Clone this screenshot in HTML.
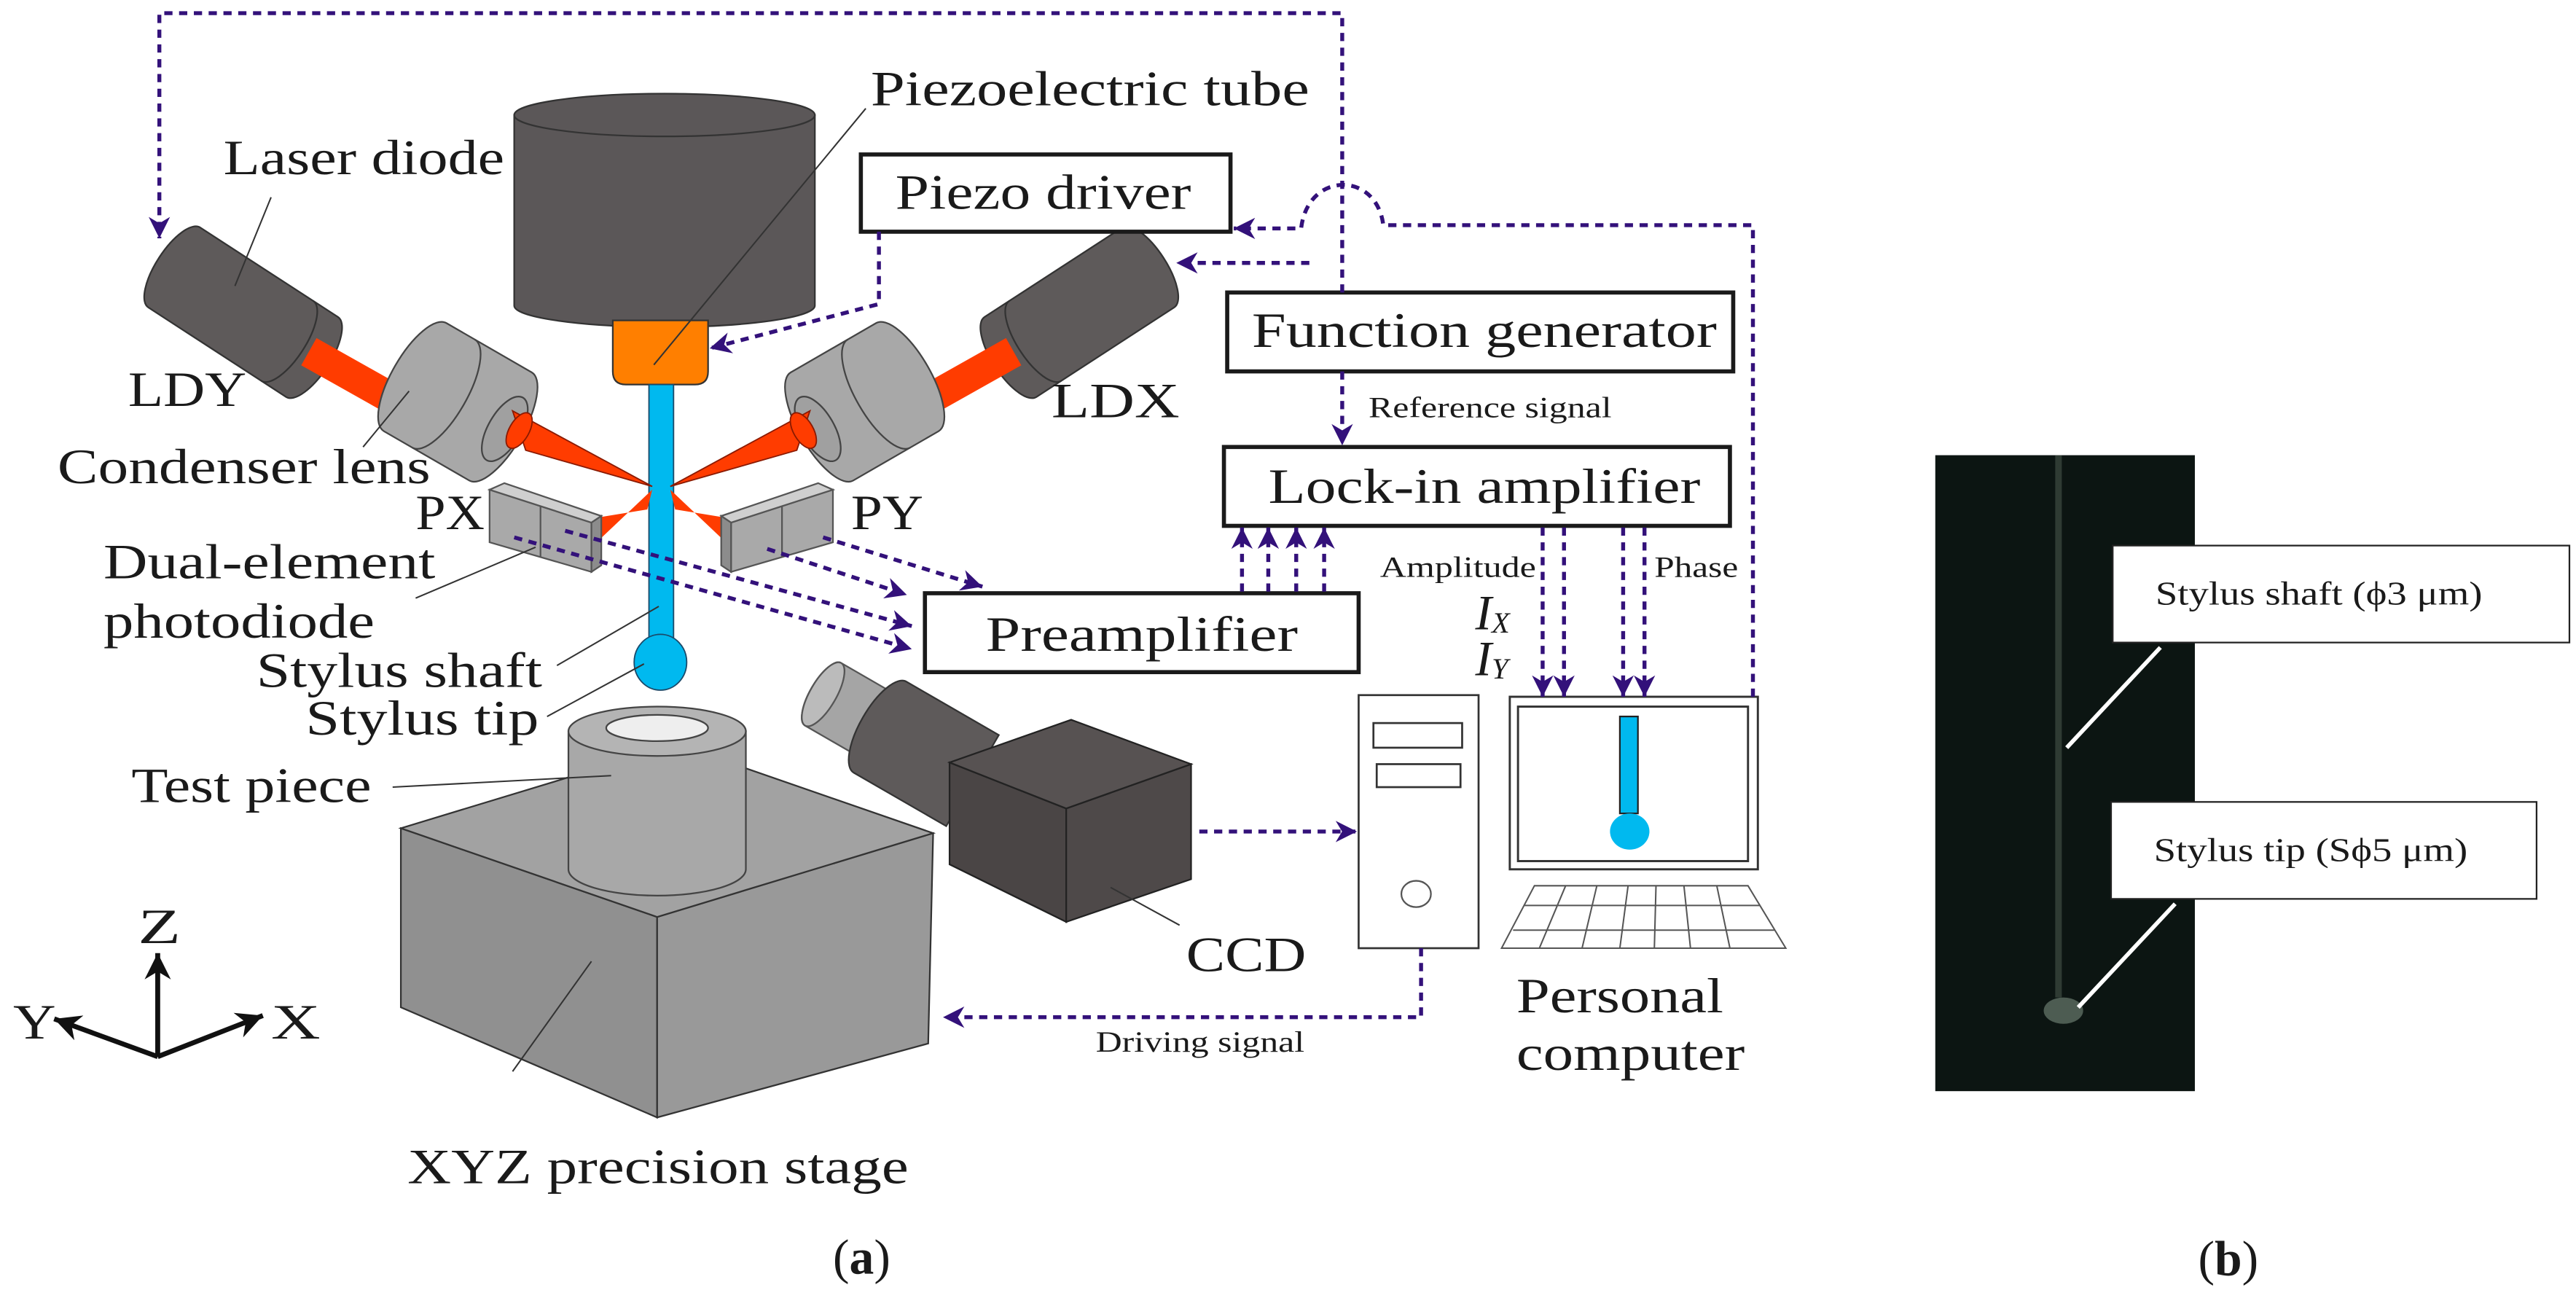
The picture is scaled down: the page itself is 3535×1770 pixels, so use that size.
<!DOCTYPE html>
<html><head><meta charset="utf-8"><style>
html,body{margin:0;padding:0;background:#fff}
svg{display:block}
text{font-family:"Liberation Serif",serif;fill:#1a1a1a}
</style></head><body>
<svg width="3535" height="1770" viewBox="0 0 1568 785" preserveAspectRatio="none" xmlns="http://www.w3.org/2000/svg">
<defs>
<marker id="ah" viewBox="0 0 10 10" refX="10" refY="5" markerWidth="13" markerHeight="13" markerUnits="userSpaceOnUse" orient="auto"><path d="M0,0 L10,5 L0,10 L3,5z" fill="#33117a"/></marker>
<marker id="bk" viewBox="0 0 10 10" refX="10" refY="5" markerWidth="16" markerHeight="16" markerUnits="userSpaceOnUse" orient="auto"><path d="M0,0 L10,5 L0,10 L3,5z" fill="#111"/></marker>
<g id="ld">
 <g transform="translate(148,190) rotate(33)">
  <path d="M-50,-29 H50 A11,29 0 0 1 50,29 H-50 A11,29 0 0 1 -50,-29z" fill="#5e5a5a" stroke="#333" stroke-width="1"/>
  <path d="M32,-29 A11,29 0 0 1 32,29" fill="none" stroke="#333" stroke-width="1"/>
 </g>
 <line x1="188" y1="214" x2="252" y2="250" stroke="#ff3c00" stroke-width="19"/>
 <g transform="translate(283,247) rotate(30)">
  <path d="M-35,-38 H25 A14,38 0 0 1 25,38 H-35 A14,38 0 0 1 -35,-38z" fill="#a8a8a8" stroke="#444" stroke-width="1"/>
  <path d="M-15,-38 A14,38 0 0 1 -15,38" fill="none" stroke="#444" stroke-width="1"/>
  <ellipse cx="28" cy="0" rx="10" ry="22" fill="#a0a0a0" stroke="#444" stroke-width="1"/>
 </g>
 <polygon points="312,250 320,274 397,296" fill="#ff3c00" stroke="#8a1a00" stroke-width="0.8"/>
 <ellipse cx="316" cy="262" rx="6" ry="12" transform="rotate(30 316 262)" fill="#ff3c00" stroke="#8a1a00" stroke-width="0.8"/>
 <polygon points="397,298 394,310 345,318 360,333" fill="#ff3c00"/>
 <polygon points="298,298 360,318 360,348 298,330" fill="#a9a9a9" stroke="#555" stroke-width="1"/>
 <polygon points="298,298 307,294 366,314 360,318" fill="#cfcfcf" stroke="#555" stroke-width="1"/>
 <polygon points="360,318 366,314 366,344 360,348" fill="#8c8c8c" stroke="#555" stroke-width="1"/>
 <line x1="329" y1="308" x2="329" y2="339" stroke="#555" stroke-width="1"/>
</g>
</defs>

<path d="M313,70 V186 A91.5,13 0 0 0 496,186 V70z" fill="#5b5758" stroke="#333" stroke-width="1"/>
<ellipse cx="404.5" cy="70" rx="91.5" ry="13" fill="#5b5758" stroke="#333" stroke-width="1"/>
<path d="M373,195 H431 V226 Q431,234 423,234 H381 Q373,234 373,226z" fill="#ff7f00" stroke="#333" stroke-width="1"/>
<rect x="395" y="234" width="15" height="162" fill="#00b9ef" stroke="#1a4a6a" stroke-width="0.8"/>
<ellipse cx="402" cy="403" rx="16" ry="17" fill="#00b9ef" stroke="#1a4a6a" stroke-width="0.8"/>

<use href="#ld"/>
<use href="#ld" transform="translate(805,0) scale(-1,1)"/>

<polygon points="244,504 400,558 400,680 244,613" fill="#909090" stroke="#333" stroke-width="1"/>
<polygon points="400,558 568,507 565,635 400,680" fill="#999" stroke="#333" stroke-width="1"/>
<polygon points="244,504 412,453 568,507 400,558" fill="#a2a2a2" stroke="#333" stroke-width="1"/>
<path d="M346,445 V529 A54,16 0 0 0 454,529 V445z" fill="#a8a8a8" stroke="#444" stroke-width="1"/>
<ellipse cx="400" cy="445" rx="54" ry="15" fill="#b4b4b4" stroke="#444" stroke-width="1"/>
<ellipse cx="400" cy="443" rx="31" ry="8" fill="#eee" stroke="#444" stroke-width="1"/>

<g transform="translate(540,445) rotate(30)">
 <path d="M-45,-22 H20 V22 H-45 A8,22 0 0 1 -45,-22z" fill="#a5a5a5" stroke="#555" stroke-width="1"/>
 <ellipse cx="-45" cy="0" rx="8" ry="22" fill="#bbb" stroke="#555" stroke-width="1"/>
 <path d="M-5,-32 H60 V32 H-5 A12,32 0 0 1 -5,-32z" fill="#5e5a5a" stroke="#333" stroke-width="1"/>
</g>
<polygon points="578,464 649,492 649,561 578,526" fill="#4a4545" stroke="#222" stroke-width="1"/>
<polygon points="649,492 725,465 725,535 649,561" fill="#4e4949" stroke="#222" stroke-width="1"/>
<polygon points="578,464 652,438 725,465 649,492" fill="#575252" stroke="#222" stroke-width="1"/>

<g stroke="#333" stroke-width="0.9" fill="none">
<line x1="527" y1="66" x2="398" y2="222"/>
<line x1="165" y1="120" x2="143" y2="174"/>
<line x1="221" y1="272" x2="249" y2="238"/>
<line x1="253" y1="364" x2="326" y2="333"/>
<line x1="339" y1="405" x2="401" y2="369"/>
<line x1="333" y1="436" x2="392" y2="404"/>
<line x1="239" y1="479" x2="372" y2="472"/>
<line x1="676" y1="540" x2="718" y2="563"/>
<line x1="312" y1="652" x2="360" y2="585"/>
</g>

<g fill="#fff" stroke="#1a1a1a" stroke-width="2.5">
<rect x="524" y="94" width="225" height="47"/>
<rect x="747" y="178" width="308" height="48"/>
<rect x="745" y="272" width="308" height="48"/>
<rect x="563" y="361" width="264" height="48"/>
</g>

<rect x="827" y="423" width="73" height="154" fill="#fff" stroke="#333" stroke-width="1.2"/>
<rect x="836" y="440" width="54" height="15" fill="#fff" stroke="#333" stroke-width="1.2"/>
<rect x="838" y="465" width="51" height="14" fill="#fff" stroke="#333" stroke-width="1.2"/>
<ellipse cx="862" cy="544" rx="9" ry="8" fill="#fff" stroke="#555" stroke-width="1"/>
<rect x="919" y="424" width="151" height="105" fill="#fff" stroke="#333" stroke-width="1.3"/>
<rect x="924" y="430" width="140" height="94" fill="#fff" stroke="#333" stroke-width="1.3"/>
<rect x="986" y="436" width="11" height="59" fill="#00b9ef" stroke="#222" stroke-width="1"/>
<ellipse cx="992" cy="506" rx="12" ry="11" fill="#00b9ef"/>
<g stroke="#555" stroke-width="0.9" fill="none">
<polygon points="934,539 1064,539 1087,577 914,577"/>
<line x1="928" y1="551" x2="1071" y2="551"/><line x1="921" y1="566" x2="1080" y2="566"/>
<line x1="953" y1="539" x2="937" y2="577"/><line x1="972" y1="539" x2="963" y2="577"/>
<line x1="991" y1="539" x2="986" y2="577"/><line x1="1008" y1="539" x2="1007" y2="577"/>
<line x1="1025" y1="539" x2="1029" y2="577"/><line x1="1045" y1="539" x2="1053" y2="577"/>
</g>

<g stroke="#33117a" stroke-width="2.4" stroke-dasharray="5 4" fill="none" marker-end="url(#ah)">
<path d="M817,178 V8 H97 V145"/>
<path d="M817,226 V271"/>
<path d="M1067,424 V137 H842 C838,104 796,104 792,139 H751"/>
<path d="M797,160 H716"/>
<path d="M535,141 V185 L432,212"/>
<path d="M756,360 V321"/><path d="M772,360 V321"/><path d="M789,360 V321"/><path d="M806,360 V321"/>
<path d="M939,321 V424"/><path d="M952,321 V424"/><path d="M988,321 V424"/><path d="M1001,321 V424"/>
<path d="M313,327 L555,395"/>
<path d="M344,323 L555,381"/>
<path d="M467,334 L552,362"/>
<path d="M501,327 L598,357"/>
<path d="M730,506 H826"/>
<path d="M865,577 V619 H574"/>
</g>

<g stroke="#111" stroke-width="3" fill="none" marker-end="url(#bk)">
<line x1="96" y1="643" x2="96" y2="580"/>
<line x1="96" y1="643" x2="33" y2="620"/>
<line x1="96" y1="643" x2="160" y2="618"/>
</g>

<g font-size="30">
<text x="530" y="64" textLength="267" lengthAdjust="spacingAndGlyphs">Piezoelectric tube</text>
<text x="136" y="106" textLength="171" lengthAdjust="spacingAndGlyphs">Laser diode</text>
<text x="545" y="127" textLength="180" lengthAdjust="spacingAndGlyphs">Piezo driver</text>
<text x="762" y="211" textLength="283" lengthAdjust="spacingAndGlyphs">Function generator</text>
<text x="772" y="306" textLength="263" lengthAdjust="spacingAndGlyphs">Lock-in amplifier</text>
<text x="600" y="396" textLength="190" lengthAdjust="spacingAndGlyphs">Preamplifier</text>
<text x="78" y="247" textLength="72" lengthAdjust="spacingAndGlyphs">LDY</text>
<text x="640" y="254" textLength="78" lengthAdjust="spacingAndGlyphs">LDX</text>
<text x="35" y="294" textLength="227" lengthAdjust="spacingAndGlyphs">Condenser lens</text>
<text x="253" y="322" textLength="42" lengthAdjust="spacingAndGlyphs">PX</text>
<text x="518" y="322" textLength="44" lengthAdjust="spacingAndGlyphs">PY</text>
<text x="63" y="352" textLength="202" lengthAdjust="spacingAndGlyphs">Dual-element</text>
<text x="63" y="388" textLength="165" lengthAdjust="spacingAndGlyphs">photodiode</text>
<text x="156" y="418" textLength="174" lengthAdjust="spacingAndGlyphs">Stylus shaft</text>
<text x="186" y="447" textLength="142" lengthAdjust="spacingAndGlyphs">Stylus tip</text>
<text x="80" y="488" textLength="146" lengthAdjust="spacingAndGlyphs">Test piece</text>
<text x="722" y="591" textLength="73" lengthAdjust="spacingAndGlyphs">CCD</text>
<text x="923" y="616" textLength="126" lengthAdjust="spacingAndGlyphs">Personal</text>
<text x="923" y="651" textLength="139" lengthAdjust="spacingAndGlyphs">computer</text>
<text x="248" y="720" textLength="305" lengthAdjust="spacingAndGlyphs">XYZ precision stage</text>
<text x="84" y="574" textLength="26" lengthAdjust="spacingAndGlyphs">Z</text>
<text x="8" y="632" textLength="26" lengthAdjust="spacingAndGlyphs">Y</text>
<text x="165" y="632" textLength="30" lengthAdjust="spacingAndGlyphs">X</text>
</g>
<g font-size="18">
<text x="833" y="254" textLength="148" lengthAdjust="spacingAndGlyphs">Reference signal</text>
<text x="840" y="351" textLength="95" lengthAdjust="spacingAndGlyphs">Amplitude</text>
<text x="1007" y="351" textLength="51" lengthAdjust="spacingAndGlyphs">Phase</text>
<text x="667" y="640" textLength="127" lengthAdjust="spacingAndGlyphs">Driving signal</text>
</g>
<text x="898" y="383" font-size="30" font-style="italic">I<tspan font-size="18" dy="2">X</tspan></text>
<text x="898" y="411" font-size="30" font-style="italic">I<tspan font-size="18" dy="2">Y</tspan></text>
<text x="507" y="775" font-size="30">(<tspan font-weight="bold">a</tspan>)</text>

<rect x="1178" y="277" width="158" height="387" fill="#0c1512"/>
<rect x="1251" y="277" width="4" height="330" fill="#3e4c42" opacity="0.7"/>
<ellipse cx="1256" cy="615" rx="12" ry="8" fill="#4d5c52"/>
<rect x="1286" y="332" width="278" height="59" fill="#fff" stroke="#222" stroke-width="1"/>
<rect x="1285" y="488" width="259" height="59" fill="#fff" stroke="#222" stroke-width="1"/>
<line x1="1315" y1="394" x2="1258" y2="455" stroke="#fff" stroke-width="2.5"/>
<line x1="1324" y1="550" x2="1265" y2="613" stroke="#fff" stroke-width="2.5"/>
<text x="1312" y="368" font-size="20" textLength="199" lengthAdjust="spacingAndGlyphs">Stylus shaft (ϕ3 μm)</text>
<text x="1311" y="524" font-size="20" textLength="191" lengthAdjust="spacingAndGlyphs">Stylus tip (Sϕ5 μm)</text>
<text x="1338" y="776" font-size="30">(<tspan font-weight="bold">b</tspan>)</text>
</svg>
</body></html>
